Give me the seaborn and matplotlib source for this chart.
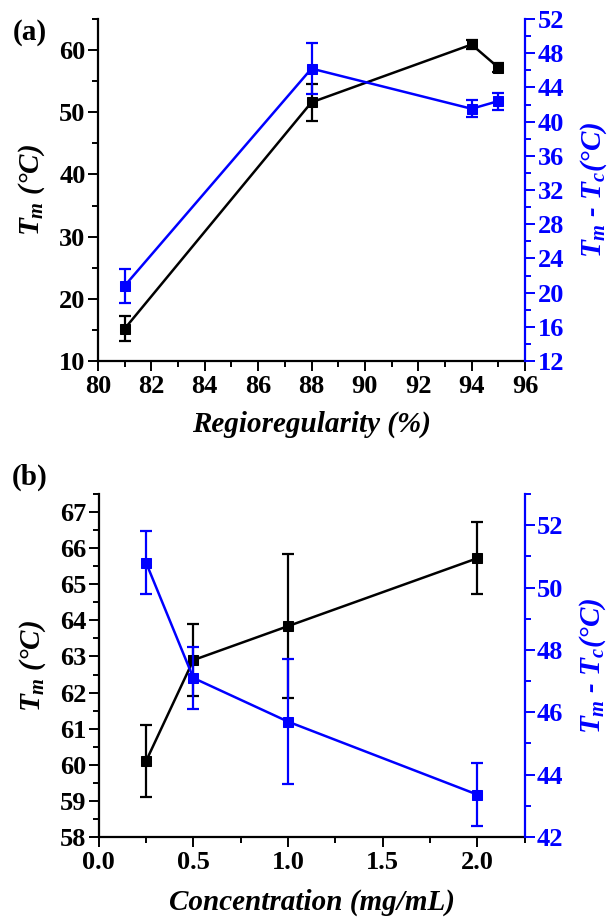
import matplotlib
matplotlib.use("Agg")
import matplotlib.pyplot as plt
from matplotlib.ticker import MultipleLocator, FormatStrFormatter
import seaborn as sns
import pandas as pd

# Panel (a): melting temperature vs regioregularity
rr = [81, 88, 94, 95]
tm_rr = [15.2, 51.6, 60.9, 57.2]
tm_rr_err = [2.0, 3.0, 0.7, 0.7]
dt_rr = [20.8, 46.2, 41.5, 42.4]
dt_rr_err = [2.0, 3.0, 1.0, 1.0]

# Panel (b): melting temperature vs concentration
conc = [0.25, 0.5, 1.0, 2.0]
tm_conc = [60.1, 62.9, 63.84, 65.72]
tm_conc_err = [1.0, 1.0, 2.0, 1.0]
dt_conc = [50.8, 47.1, 45.7, 43.36]
dt_conc_err = [1.0, 1.0, 2.0, 1.0]

sns.set_theme(style="ticks")
plt.rcParams["font.family"] = ["Liberation Serif", "DejaVu Serif"]
plt.rcParams["font.weight"] = "bold"
plt.rcParams["mathtext.fontset"] = "custom"
plt.rcParams["mathtext.it"] = "Liberation Serif:italic:bold"
plt.rcParams["mathtext.rm"] = "Liberation Serif:bold"
plt.rcParams["mathtext.bf"] = "Liberation Serif:bold"
for key in ("text.color", "axes.labelcolor", "xtick.color", "ytick.color",
            "axes.edgecolor"):
    plt.rcParams[key] = "black"

BLUE = "#0000FF"
BLACK = "#000000"
TICK_FS = 19
LABEL_FS = 21

fig = plt.figure(figsize=(6.10, 9.24), dpi=100)
W, H = 610.0, 924.0


def add_axes_px(left, right, top, bottom):
    return fig.add_axes([left / W, 1 - bottom / H, (right - left) / W, (bottom - top) / H])


def style_yaxis(ax, color):
    ax.tick_params(axis="y", which="major", length=7, width=1.4, colors=color,
                   labelcolor=color, labelsize=TICK_FS, pad=2, direction="out")
    ax.tick_params(axis="y", which="minor", length=4, width=1.4, colors=color,
                   direction="out")


def draw_series(ax, x, y, err, color):
    df = pd.DataFrame({"x": x, "y": y})
    sns.lineplot(data=df, x="x", y="y", ax=ax, color=color, marker="s",
                 markersize=7, markeredgecolor=color, linewidth=1.8, legend=False)
    ax.errorbar(x, y, yerr=err, fmt="none", ecolor=color, elinewidth=1.6,
                capsize=4.3, capthick=1.6)


def build_panel(ax, x, tm, tm_err, dt, dt_err, xlim, xmaj, xmin,
                ylim, ymaj, ymin, y2lim, y2maj, y2min, xlabel, xlabel_y):
    ax2 = ax.twinx()
    draw_series(ax, x, tm, tm_err, BLACK)
    draw_series(ax2, x, dt, dt_err, BLUE)

    ax.set_xlim(*xlim)
    ax.set_ylim(*ylim)
    ax2.set_ylim(*y2lim)
    ax.xaxis.set_major_locator(MultipleLocator(xmaj))
    ax.xaxis.set_minor_locator(MultipleLocator(xmin))
    ax.yaxis.set_major_locator(MultipleLocator(ymaj))
    ax.yaxis.set_minor_locator(MultipleLocator(ymin))
    ax2.yaxis.set_major_locator(MultipleLocator(y2maj))
    ax2.yaxis.set_minor_locator(MultipleLocator(y2min))

    for a in (ax, ax2):
        a.spines["top"].set_visible(False)
        for s in a.spines.values():
            s.set_linewidth(1.6)
    ax.spines["left"].set_color(BLACK)
    ax.spines["bottom"].set_color(BLACK)
    ax.spines["right"].set_visible(False)
    ax2.spines["left"].set_visible(False)
    ax2.spines["bottom"].set_visible(False)
    ax2.spines["right"].set_color(BLUE)

    ax.tick_params(axis="x", which="major", length=7, width=1.4, labelsize=TICK_FS,
                   pad=3, direction="out", colors=BLACK, labelcolor=BLACK)
    ax.tick_params(axis="x", which="minor", length=4, width=1.4, direction="out",
                   colors=BLACK)
    style_yaxis(ax, BLACK)
    style_yaxis(ax2, BLUE)

    ax.set_xlabel(xlabel, fontsize=LABEL_FS, fontweight="bold", fontstyle="italic",
                  color=BLACK)
    ax.xaxis.label.set_va("center")
    ax.xaxis.set_label_coords(0.5, xlabel_y)

    ax.set_ylabel(r"$T_m$ (°C)", fontsize=LABEL_FS, fontweight="bold",
                  fontstyle="italic", color=BLACK)
    ax.yaxis.label.set_va("center")
    ax.yaxis.set_label_coords(-0.155, 0.5)

    ax2.set_ylabel(r"$T_m$ - $T_c$(°C)", fontsize=LABEL_FS, fontweight="bold",
                   fontstyle="italic", color=BLUE, rotation=90)
    ax2.yaxis.label.set_va("center")
    ax2.yaxis.set_label_coords(1.16, 0.5)
    return ax2


ax_a = add_axes_px(98, 525, 19, 361)
build_panel(ax_a, rr, tm_rr, tm_rr_err, dt_rr, dt_rr_err,
            xlim=(80, 96), xmaj=2, xmin=1,
            ylim=(10, 65), ymaj=10, ymin=5,
            y2lim=(12, 52), y2maj=4, y2min=2,
            xlabel="Regioregularity (%)", xlabel_y=-0.185)

ax_b = add_axes_px(98.7, 524.6, 494, 837)
build_panel(ax_b, conc, tm_conc, tm_conc_err, dt_conc, dt_conc_err,
            xlim=(0, 2.25), xmaj=0.5, xmin=0.25,
            ylim=(58, 67.5), ymaj=1, ymin=0.5,
            y2lim=(42, 53), y2maj=2, y2min=1,
            xlabel="Concentration (mg/mL)", xlabel_y=-0.19)
ax_b.xaxis.set_major_formatter(FormatStrFormatter("%.1f"))

fig.text(30 / W, 1 - 32 / H, "(a)", fontsize=21, fontweight="bold",
         ha="center", va="center", color=BLACK)
fig.text(30 / W, 1 - 477 / H, "(b)", fontsize=21, fontweight="bold",
         ha="center", va="center", color=BLACK)

fig.savefig("out.png", dpi=100)
